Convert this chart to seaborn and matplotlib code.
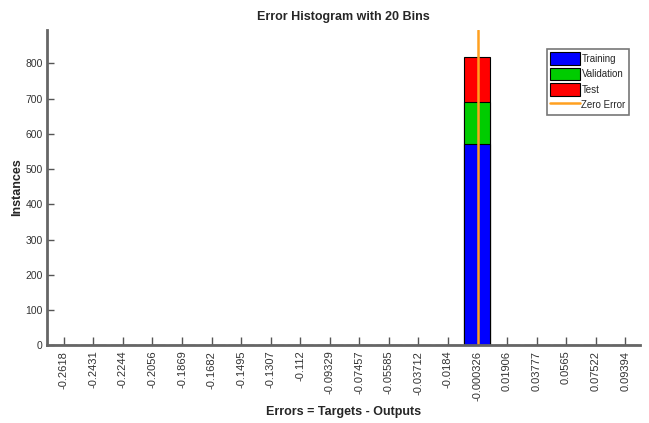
import numpy as np
import pandas as pd
import matplotlib
matplotlib.use("Agg")
import matplotlib.pyplot as plt
import seaborn as sns

# bin centres as printed under the axis
bin_labels = ["-0.2618", "-0.2431", "-0.2244", "-0.2056", "-0.1869", "-0.1682",
              "-0.1495", "-0.1307", "-0.112", "-0.09329", "-0.07457", "-0.05585",
              "-0.03712", "-0.0184", "-0.000326", "0.01906", "0.03777", "0.0565",
              "0.07522", "0.09394"]
bin_centers = [float(s) for s in bin_labels]

training = [0] * 14 + [570] + [0] * 5
validation = [0] * 14 + [120] + [0] * 5
test = [0] * 14 + [128] + [0] * 5

y_ticks = [0, 100, 200, 300, 400, 500, 600, 700, 800]

sns.set_style("white")
plt.rcParams["font.family"] = ["Liberation Sans Narrow", "Liberation Sans", "DejaVu Sans"]

df = pd.DataFrame({"bin": bin_labels, "Training": training,
                   "Validation": validation, "Test": test})
df["tv"] = df["Training"] + df["Validation"]
df["total"] = df["tv"] + df["Test"]

fig = plt.figure(figsize=(6.49, 4.23), dpi=100)
ax = fig.add_axes([0.072, 0.184, 0.914, 0.745])

bw = 0.88
sns.barplot(data=df, x="bin", y="total", color="#ff0000", width=bw,
            edgecolor="black", linewidth=0.8, saturation=1, ax=ax, label="Test")
sns.barplot(data=df, x="bin", y="tv", color="#00cc00", width=bw,
            edgecolor="black", linewidth=0.8, saturation=1, ax=ax, label="Validation")
sns.barplot(data=df, x="bin", y="Training", color="#0000ff", width=bw,
            edgecolor="black", linewidth=0.8, saturation=1, ax=ax, label="Training")

# zero error position in category coordinates
zero_pos = np.interp(0.0, bin_centers, np.arange(len(bin_centers)))
ax.axvline(zero_pos, color="#ffa020", linewidth=1.8, label="Zero Error")

ax.set_xlim(-0.58, 19.5)
ax.set_ylim(0, 895)
ax.set_yticks(y_ticks)
ax.set_yticklabels([str(v) for v in y_ticks])
ax.tick_params(axis="x", bottom=True, direction="in", length=6, width=1,
               color="#555555", labelsize=8, labelcolor="#333333", pad=4)
ax.tick_params(axis="y", left=True, direction="in", length=5, width=1,
               color="#555555", labelsize=7.5, labelcolor="#333333", pad=3)
for lab in ax.get_xticklabels():
    lab.set_rotation(90)
    lab.set_va("top")
    lab.set_ha("center")

sns.despine(ax=ax)
for side in ["left", "bottom"]:
    ax.spines[side].set_color("#666666")
    ax.spines[side].set_linewidth(2)

ax.set_title("Error Histogram with 20 Bins", fontsize=9, fontweight="bold", pad=7)
ax.set_xlabel("Errors = Targets - Outputs", fontsize=9, fontweight="bold", labelpad=4)
ax.set_ylabel("Instances", fontsize=9, fontweight="bold")
ax.yaxis.set_label_coords(-0.039, 0.5)

handles, labels = ax.get_legend_handles_labels()
order = ["Training", "Validation", "Test", "Zero Error"]
hmap = dict(zip(labels, handles))
leg = ax.legend([hmap[k] for k in order], order, loc="upper right",
                bbox_to_anchor=(0.99, 0.955), fontsize=7, frameon=True,
                fancybox=False, edgecolor="#555555", handlelength=3.0,
                handleheight=1.6, labelspacing=0.3, borderpad=0.35,
                handletextpad=0.2)
leg.get_frame().set_linewidth(1.2)

fig.savefig("out.png", dpi=100)
